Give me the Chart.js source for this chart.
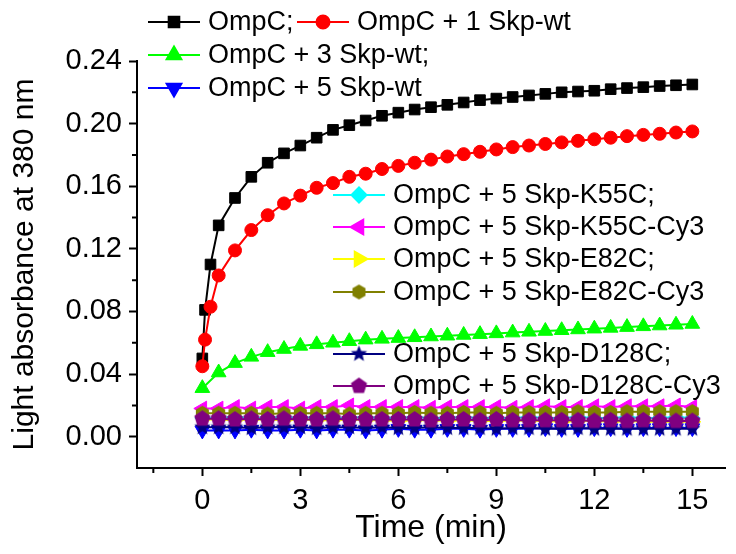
<!DOCTYPE html>
<html>
<head>
<meta charset="utf-8">
<script src="https://cdn.jsdelivr.net/npm/chart.js@4.4.1/dist/chart.umd.min.js"></script>
<style>
  html, body { margin: 0; padding: 0; background: #fff; }
  #wrap { width: 736px; height: 554px; }
</style>
</head>
<body>
<div id="wrap"><canvas id="chart" width="736" height="554"></canvas></div>
<script>
// time points (min)
var timesFast = [0, 0.083, 0.25, 0.5, 1, 1.5, 2, 2.5, 3, 3.5, 4, 4.5, 5, 5.5, 6, 6.5, 7, 7.5,
                 8, 8.5, 9, 9.5, 10, 10.5, 11, 11.5, 12, 12.5, 13, 13.5, 14, 14.5, 15];
var timesSlow = [0, 0.5, 1, 1.5, 2, 2.5, 3, 3.5, 4, 4.5, 5, 5.5, 6, 6.5, 7, 7.5,
                 8, 8.5, 9, 9.5, 10, 10.5, 11, 11.5, 12, 12.5, 13, 13.5, 14, 14.5, 15];

var xTicks = [0, 3, 6, 9, 12, 15];
var yTicks = [0, 0.04, 0.08, 0.12, 0.16, 0.20, 0.24];

var labels = ["OmpC;", "OmpC + 1 Skp-wt", "OmpC + 3 Skp-wt;", "OmpC + 5 Skp-wt",
              "OmpC + 5 Skp-K55C;", "OmpC + 5 Skp-K55C-Cy3", "OmpC + 5 Skp-E82C;",
              "OmpC + 5 Skp-E82C-Cy3", "OmpC + 5 Skp-D128C;", "OmpC + 5 Skp-D128C-Cy3"];

var ompC     = [0.050, 0.081, 0.110, 0.135, 0.1525, 0.166, 0.175, 0.181, 0.186, 0.191, 0.196, 0.199,
                0.202, 0.205, 0.207, 0.209, 0.2105, 0.212, 0.2135, 0.215, 0.216, 0.217, 0.218, 0.219,
                0.220, 0.2205, 0.221, 0.222, 0.2227, 0.2233, 0.224, 0.2245, 0.225];
var ompC1wt  = [0.045, 0.062, 0.083, 0.103, 0.119, 0.132, 0.1415, 0.149, 0.154, 0.159, 0.162, 0.166,
                0.168, 0.171, 0.173, 0.175, 0.177, 0.179, 0.1805, 0.182, 0.1835, 0.185, 0.186, 0.187,
                0.188, 0.189, 0.190, 0.191, 0.192, 0.1928, 0.1935, 0.1943, 0.195];
var ompC3wt  = [0.031, 0.041, 0.047, 0.051, 0.054, 0.056, 0.058, 0.059, 0.060, 0.061, 0.062, 0.0625,
                0.063, 0.0635, 0.064, 0.0645, 0.065, 0.0655, 0.066, 0.0665, 0.067, 0.0675, 0.068, 0.0685,
                0.069, 0.0695, 0.070, 0.0705, 0.071, 0.0715, 0.072];
var ompC5wt  = [0.004, 0.004, 0.004, 0.0045, 0.004, 0.004, 0.0045, 0.004, 0.0045, 0.0045, 0.004, 0.0045,
                0.005, 0.0045, 0.0045, 0.005, 0.005, 0.0045, 0.005, 0.005, 0.005, 0.0055, 0.005, 0.005,
                0.0055, 0.0055, 0.005, 0.0055, 0.0055, 0.0055, 0.0055];
var k55c     = [0.012, 0.012, 0.0125, 0.012, 0.012, 0.0125, 0.012, 0.0125, 0.012, 0.012, 0.0125, 0.012,
                0.012, 0.0125, 0.012, 0.012, 0.0125, 0.012, 0.012, 0.012, 0.0125, 0.012, 0.012, 0.0125,
                0.012, 0.012, 0.0125, 0.012, 0.012, 0.0125, 0.012];
var k55cCy3  = [0.018, 0.018, 0.019, 0.018, 0.019, 0.019, 0.018, 0.019, 0.019, 0.020, 0.019, 0.019,
                0.019, 0.019, 0.0185, 0.019, 0.019, 0.019, 0.019, 0.0185, 0.019, 0.0195, 0.019, 0.019,
                0.0195, 0.019, 0.0195, 0.0195, 0.0195, 0.020, 0.019];
var e82c     = [0.011, 0.011, 0.0105, 0.011, 0.011, 0.0105, 0.011, 0.0105, 0.0105, 0.011, 0.0105, 0.0105,
                0.010, 0.0105, 0.0105, 0.010, 0.0105, 0.010, 0.010, 0.0105, 0.010, 0.010, 0.0095, 0.010,
                0.010, 0.0095, 0.010, 0.0095, 0.0095, 0.0095, 0.0095];
var e82cCy3  = [0.015, 0.015, 0.015, 0.015, 0.0145, 0.015, 0.015, 0.015, 0.015, 0.0145, 0.015, 0.015,
                0.015, 0.0155, 0.015, 0.015, 0.0155, 0.0155, 0.015, 0.0155, 0.0155, 0.0155, 0.0155, 0.016,
                0.0155, 0.0155, 0.016, 0.016, 0.016, 0.016, 0.016];
var d128c    = [0.006, 0.006, 0.006, 0.0055, 0.006, 0.006, 0.006, 0.0055, 0.006, 0.006, 0.0055, 0.006,
                0.0055, 0.0055, 0.006, 0.0055, 0.0055, 0.0055, 0.005, 0.0055, 0.0055, 0.005, 0.005, 0.0055,
                0.005, 0.005, 0.005, 0.005, 0.005, 0.005, 0.005];
var d128cCy3 = [0.0115, 0.0115, 0.011, 0.0115, 0.011, 0.0115, 0.011, 0.011, 0.0115, 0.011, 0.011, 0.011,
                0.011, 0.011, 0.0105, 0.011, 0.011, 0.0105, 0.011, 0.0105, 0.0105, 0.0105, 0.0105, 0.0105,
                0.010, 0.0105, 0.010, 0.0105, 0.010, 0.010, 0.010];

var colors = ["#000000", "#ff0000", "#00ff00", "#0000ff", "#00ffff",
              "#ff00ff", "#ffff00", "#808000", "#000080", "#800080"];

// polygon / star markers that Chart.js does not have
function makeMarker(kind, r, color){
    var c = document.createElement("canvas");
    c.width = c.height = Math.ceil(2 * r + 2);
    var g = c.getContext("2d"), cx = c.width / 2, cy = c.height / 2, i, a, rr;
    g.fillStyle = color;
    g.beginPath();
    if (kind === "star"){
        for (i = 0; i < 10; i++){
            rr = i % 2 === 0 ? r : r * 0.45;
            a = -Math.PI / 2 + i * Math.PI / 5;
            g.lineTo(cx + rr * Math.cos(a), cy + rr * Math.sin(a));
        }
    } else {
        var n = kind === "hex" ? 6 : 5;
        for (i = 0; i < n; i++){
            a = -Math.PI / 2 + i * 2 * Math.PI / n;
            g.lineTo(cx + r * Math.cos(a), cy + r * Math.sin(a));
        }
    }
    g.closePath();
    g.fill();
    return c;
}

var styles = [
    {pointStyle: "rect", radius: 7.5, rotation: 0},
    {pointStyle: "circle", radius: 6.5, rotation: 0},
    {pointStyle: "triangle", radius: 8.5, rotation: 0},
    {pointStyle: "triangle", radius: 8.5, rotation: 180},
    {pointStyle: "rectRot", radius: 7.5, rotation: 0},
    {pointStyle: "triangle", radius: 8.5, rotation: 270},
    {pointStyle: "triangle", radius: 8.5, rotation: 90},
    {pointStyle: makeMarker("hex", 7.5, colors[7]), radius: 7.5, rotation: 0},
    {pointStyle: makeMarker("star", 8.5, colors[8]), radius: 8.5, rotation: 0},
    {pointStyle: makeMarker("pent", 8.5, colors[9]), radius: 8.5, rotation: 0}
];

var series = [ompC, ompC1wt, ompC3wt, ompC5wt, k55c, k55cCy3, e82c, e82cCy3, d128c, d128cCy3];

function toPoints(xs, ys){
    return ys.map(function(v, i){ return {x: xs[i], y: v}; });
}

var datasets = series.map(function(vals, i){
    var xs = i < 2 ? timesFast : timesSlow;
    return {
        label: labels[i],
        data: toPoints(xs, vals),
        borderColor: colors[i],
        backgroundColor: colors[i],
        pointBackgroundColor: colors[i],
        pointBorderColor: colors[i],
        pointBorderWidth: 1,
        borderWidth: 2,
        pointStyle: styles[i].pointStyle,
        pointRadius: styles[i].radius,
        pointRotation: styles[i].rotation,
        tension: 0,
        order: series.length - i
    };
});

// Origin-like legend blocks and minor ticks
var legendRows = [
    {x: 148, y: 22, items: [0]},
    {x: 297, y: 22, items: [1]},
    {x: 148, y: 55, items: [2]},
    {x: 148, y: 88, items: [3]},
    {x: 333, y: 195, items: [4]},
    {x: 333, y: 227, items: [5]},
    {x: 333, y: 259, items: [6]},
    {x: 333, y: 292, items: [7]},
    {x: 333, y: 354, items: [8]},
    {x: 333, y: 386, items: [9]}
];

var fontFam = "'Liberation Sans', Arial, sans-serif";

var originPlugin = {
    id: "originStyle",
    afterDraw: function(chart){
        var ctx = chart.ctx,
            xs  = chart.scales.x,
            ys  = chart.scales.y,
            v;
        ctx.save();
        ctx.strokeStyle = "#000";
        ctx.lineWidth = 2;
        ctx.beginPath();
        for (v = -1.5; v <= 16; v += 3){
            var px = xs.getPixelForValue(v);
            ctx.moveTo(px, ys.bottom);
            ctx.lineTo(px, ys.bottom + 5);
        }
        for (v = 0.02; v < 0.24; v += 0.04){
            var py = ys.getPixelForValue(v);
            ctx.moveTo(xs.left, py);
            ctx.lineTo(xs.left - 5, py);
        }
        ctx.stroke();

        ctx.font = "27px " + fontFam;
        ctx.textBaseline = "middle";
        ctx.textAlign = "left";
        legendRows.forEach(function(row){
            var i = row.items[0], st = styles[i];
            ctx.strokeStyle = colors[i];
            ctx.fillStyle = colors[i];
            ctx.lineWidth = 2;
            ctx.beginPath();
            ctx.moveTo(row.x, row.y);
            ctx.lineTo(row.x + 52, row.y);
            ctx.stroke();
            Chart.helpers.drawPoint(ctx, {pointStyle: st.pointStyle, radius: st.radius,
                rotation: st.rotation, borderWidth: 1}, row.x + 26, row.y);
            ctx.fillStyle = "#000";
            ctx.fillText(labels[i], row.x + 60, row.y + 1);
        });
        ctx.restore();
    }
};

new Chart(document.getElementById("chart"), {
    type: "line",
    data: {datasets: datasets},
    plugins: [originPlugin],
    options: {
        responsive: false,
        animation: false,
        layout: {padding: {top: 61, right: 11, left: 0, bottom: 0}},
        plugins: {legend: {display: false}, tooltip: {enabled: false}},
        scales: {
            x: {
                type: "linear",
                min: -2,
                max: 16,
                afterBuildTicks: function(scale){
                    scale.ticks = xTicks.map(function(v){ return {value: v}; });
                },
                afterFit: function(scale){ scale.height = 86; },
                grid: {drawOnChartArea: false, drawTicks: true, tickLength: 8, tickWidth: 2, tickColor: "#000"},
                border: {display: true, color: "#000", width: 2},
                ticks: {color: "#000", padding: 8, maxRotation: 0, autoSkip: false,
                        font: {family: fontFam, size: 29}},
                title: {display: true, text: "Time (min)", color: "#000",
                        font: {family: fontFam, size: 32}, padding: {top: 0, bottom: 7}}
            },
            y: {
                type: "linear",
                min: -0.02,
                max: 0.24,
                afterBuildTicks: function(scale){
                    scale.ticks = yTicks.map(function(v){ return {value: v}; });
                },
                afterFit: function(scale){ scale.width = 137; },
                grid: {drawOnChartArea: false, drawTicks: true, tickLength: 8, tickWidth: 2, tickColor: "#000"},
                border: {display: true, color: "#000", width: 2},
                ticks: {color: "#000", padding: 7, autoSkip: false,
                        font: {family: fontFam, size: 29},
                        callback: function(v){ return v.toFixed(2); }},
                title: {display: true, text: "Light absorbance at 380 nm", color: "#000",
                        font: {family: fontFam, size: 30}, padding: {top: 7, bottom: 0}}
            }
        }
    }
});
</script>
</body>
</html>
